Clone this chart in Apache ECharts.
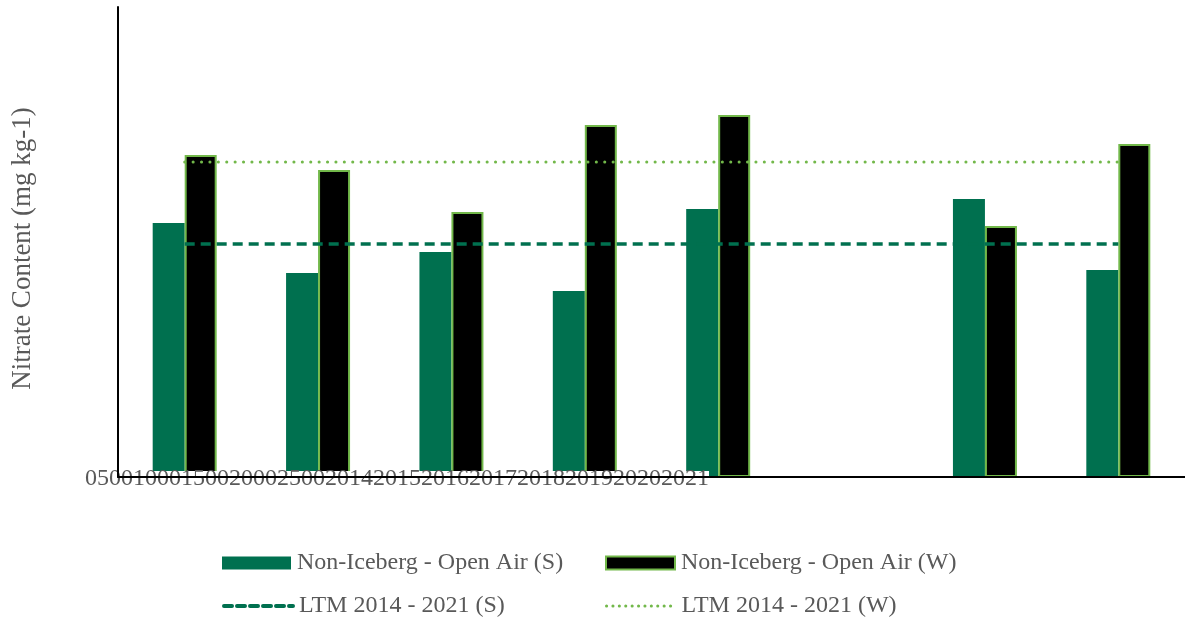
<!DOCTYPE html>
<html>
<head>
<meta charset="utf-8">
<script src="https://cdn.jsdelivr.net/npm/echarts@6/dist/echarts.min.js"></script>
<style>
  html, body { margin: 0; padding: 0; background: #fff; }
  #chart { width: 1185px; height: 618px; }
</style>
</head>
<body>
<div id="chart"></div>
<script>
// categories and tick labels
let years = ['2014', '2015', '2016', '2017', '2018', '2019', '2020', '2021'];
let yTicks = ['0', '500', '1000', '1500', '2000', '2500'];

// series values (mg kg-1), 2019 missing
let summerVals = [1351, 1085, 1197, 989, 1426, null, 1479, 1101];
let winterVals = [1713, 1633, 1410, 1872, 1926, null, 1335, 1771];
let ltmSummer = [1240, 1240, 1240, 1240, 1240, 1240, 1240, 1240];
let ltmWinter = [1676, 1676, 1676, 1676, 1676, 1676, 1676, 1676];

let serif = '"Liberation Serif", "Times New Roman", serif';
let textGrey = '#595959';
let darkGreen = '#00704f';
let lightGreen = '#72b84a';

let chart = echarts.init(document.getElementById('chart'));

// one legend per entry so the two columns line up
function legendAt(name, left, top, line) {
  let lg = {
    data: [{ name: name, icon: line ? undefined : 'rect' }],
    left: left,
    top: top,
    padding: 0,
    itemWidth: 69,
    itemHeight: 13,
    itemGap: 0,
    textStyle: { fontFamily: serif, fontSize: 24, color: textGrey, padding: [0, 0, 0, 1] },
    selectedMode: false
  };
  if (line) {
    lg.itemStyle = { opacity: 0 };
    lg.lineStyle = line;
  }
  return lg;
}

let option = {
  animation: false,
  backgroundColor: '#fff',
  grid: { left: 118, right: 0, top: 7, bottom: 141 },
  legend: [
    legendAt('Non-Iceberg - Open Air (S)', 222, 551),
    legendAt('Non-Iceberg - Open Air (W)', 605, 551),
    legendAt('LTM 2014 - 2021 (S)', 222, 594, { width: 4, type: [8, 5], cap: 'round' }),
    legendAt('LTM 2014 - 2021 (W)', 605, 594, { width: 3, type: [0.1, 6.3], cap: 'round' })
  ],
  xAxis: {
    type: 'category',
    data: years,
    z: 10,
    axisLine: { lineStyle: { color: '#000', width: 2 } },
    axisTick: { show: false },
    axisLabel: { show: false }
  },
  yAxis: {
    type: 'value',
    min: 0,
    max: 2500,
    interval: 500,
    z: 10,
    name: 'Nitrate Content (mg kg-1)',
    nameLocation: 'middle',
    nameGap: 82,
    nameTextStyle: { fontFamily: serif, fontSize: 27, color: textGrey, padding: [0, 13, 0, 0] },
    axisLine: { show: true, lineStyle: { color: '#000', width: 2 } },
    axisTick: { show: false },
    axisLabel: { show: false },
    splitLine: { show: false }
  },
  // the original draws all tick labels squashed together on the baseline
  graphic: [{
    type: 'text',
    z: 5,
    x: 85,
    y: 479,
    style: {
      text: yTicks.join('') + years.join(''),
      font: '24px ' + serif,
      fill: textGrey,
      verticalAlign: 'middle',
      lineHeight: 16,
      backgroundColor: '#fff'
    }
  }],
  series: [
    {
      name: 'Non-Iceberg - Open Air (S)',
      type: 'bar',
      data: summerVals,
      barWidth: 32,
      barGap: '0%',
      itemStyle: { color: darkGreen }
    },
    {
      name: 'Non-Iceberg - Open Air (W)',
      type: 'bar',
      data: winterVals,
      barWidth: 32,
      barGap: '0%',
      itemStyle: { color: '#000', borderColor: lightGreen, borderWidth: 2 }
    },
    {
      name: 'LTM 2014 - 2021 (S)',
      type: 'line',
      data: ltmSummer,
      symbol: 'none',
      z: 5,
      lineStyle: { color: darkGreen, width: 3.5, type: [10, 6] },
      itemStyle: { color: darkGreen }
    },
    {
      name: 'LTM 2014 - 2021 (W)',
      type: 'line',
      data: ltmWinter,
      symbol: 'none',
      z: 5,
      lineStyle: { color: lightGreen, width: 3, type: [0.1, 8.3], cap: 'round' },
      itemStyle: { color: lightGreen }
    }
  ]
};

chart.setOption(option);
</script>
</body>
</html>
